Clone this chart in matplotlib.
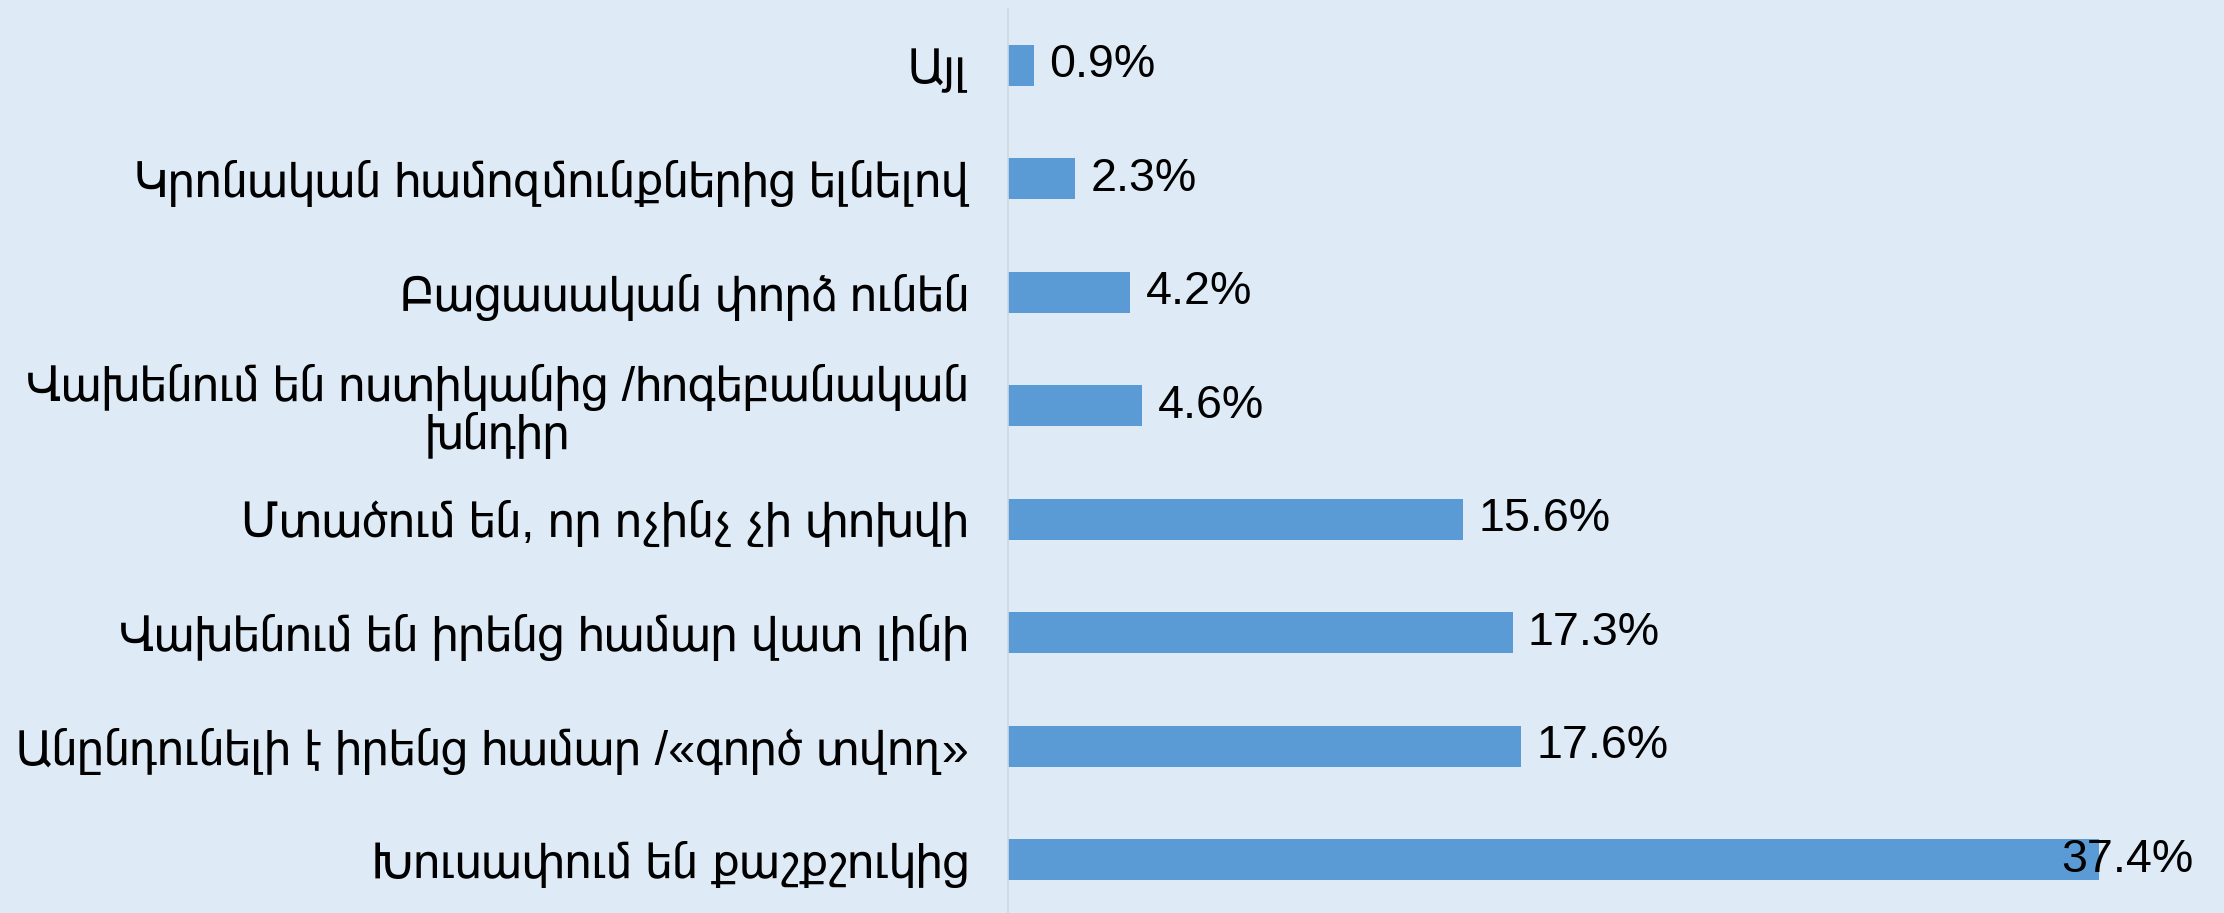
import matplotlib.pyplot as plt

plt.rcParams['font.family'] = ['Liberation Sans', 'FreeSans', 'DejaVu Sans']

# Պատճառներ և տոկոսներ (վերևից ներքև)
categories = [
    'Այլ',
    'Կրոնական համոզմունքներից ելնելով',
    'Բացասական փորձ ունեն',
    'Վախենում են ոստիկանից /հոգեբանական\nխնդիր',
    'Մտածում են, որ ոչինչ չի փոխվի',
    'Վախենում են իրենց համար վատ լինի',
    'Անընդունելի է իրենց համար /«գործ տվող»',
    'Խուսափում են քաշքշուկից',
]
values = [0.9, 2.3, 4.2, 4.6, 15.6, 17.3, 17.6, 37.4]
value_labels = [f'{v:.1f}%' for v in values]

bg = '#DEEAF6'
bar_color = '#5B9BD5'

fig = plt.figure(figsize=(22.24, 9.13), dpi=100, facecolor=bg)
ax = fig.add_axes([0.4532, -0.004, 0.5333, 0.9945])
ax.set_facecolor(bg)

pos = list(range(len(categories)))
ax.barh(pos, values, height=0.36, color=bar_color)

ax.set_ylim(len(categories) - 0.5, -0.5)
xmax = 40.66
ax.set_xlim(0, xmax)

ax.set_yticks(pos)
ax.set_yticklabels(categories, fontsize=35, multialignment='center', linespacing=1.02)
ax.tick_params(axis='y', length=0, pad=28)
ax.set_xticks([])

for s in ['top', 'right', 'bottom']:
    ax.spines[s].set_visible(False)
ax.spines['left'].set_color('#D0D7DE')
ax.spines['left'].set_linewidth(1.2)

# Տվյալների պիտակներ
for p, v, lab in zip(pos, values, value_labels):
    if v == max(values):
        ax.text(xmax, p, lab, ha='right', va='center', fontsize=33.6, color='black')
    else:
        ax.annotate(lab, (v, p), textcoords='offset points', xytext=(11, 0),
                    ha='left', va='center', fontsize=33.6, color='black')

fig.savefig('out.png', dpi=100, facecolor=bg)
